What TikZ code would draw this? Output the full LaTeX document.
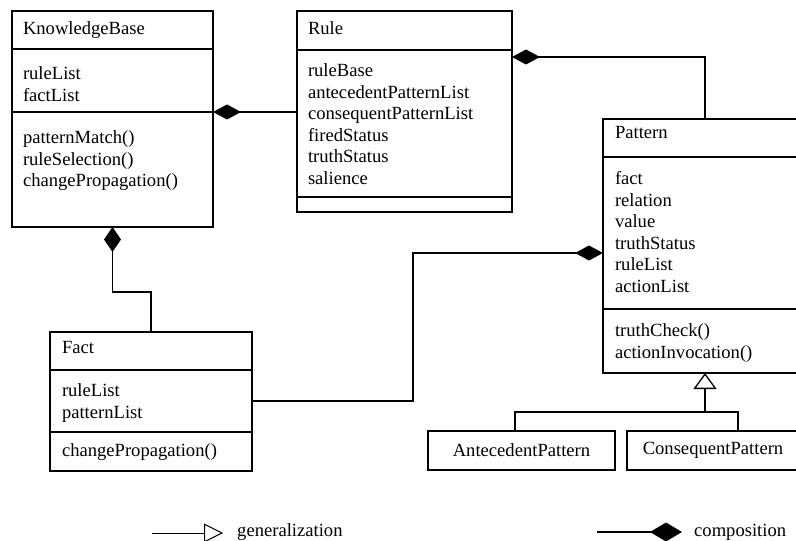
\documentclass[tikz,border=0pt]{standalone}
\usepackage{fontspec}
\setmainfont{Liberation Serif}
\usetikzlibrary{arrows.meta}
\begin{document}
\begin{tikzpicture}[x=1bp,y=-1bp,
  every node/.style={font=\fontsize{18.6bp}{21.6bp}\selectfont},
  classbox/.style={draw=black, line width=2bp, rectangle, inner sep=0pt, outer sep=0pt, anchor=north west},
  txt/.style={anchor=north west, inner sep=0pt, outer sep=0pt, align=left},
  divider/.style={line width=2bp},
  link/.style={line width=1.6bp},
  comp/.style={link, -{Diamond[length=28bp,width=15bp,fill=black]}},
  compshort/.style={link, -{Diamond[length=25bp,width=17bp,fill=black]}},
  genline/.style={line width=1.3bp},
  gen/.style={genline, -{Triangle[open,length=16bp,width=23bp]}},
]
\clip (0,0) rectangle (796,541);

% ---------- class boxes ----------
\node[classbox, minimum width=201bp, minimum height=216bp] (kb) at (12,11) {};
\draw[divider] ([yshift=-38bp]kb.north west) -- ([yshift=-38bp]kb.north east);
\draw[divider] ([yshift=-101bp]kb.north west) -- ([yshift=-101bp]kb.north east);
\coordinate (kbd2) at ([yshift=-101bp]kb.north east);
\node[txt] (kbname) at (23,21.5) {KnowledgeBase};
\node[txt] (kbattr) at (23,66.5) {ruleList\\factList};
\node[txt] (kbops) at (23,130.5) {patternMatch()\\ruleSelection()\\changePropagation()};

\node[classbox, minimum width=215bp, minimum height=201bp] (rule) at (297,11) {};
\draw[divider] ([yshift=-39bp]rule.north west) -- ([yshift=-39bp]rule.north east);
\draw[divider] ([yshift=-186bp]rule.north west) -- ([yshift=-186bp]rule.north east);
\node[txt] (rulename) at (308,21.5) {Rule};
\node[txt] (ruleattr) at (308,63.5) {ruleBase\\antecedentPatternList\\consequentPatternList\\firedStatus\\truthStatus\\salience};

\node[classbox, minimum width=196bp, minimum height=254bp] (pattern) at (603,119) {};
\draw[divider] ([yshift=-38bp]pattern.north west) -- ([yshift=-38bp]pattern.north east);
\draw[divider] ([yshift=-190bp]pattern.north west) -- ([yshift=-190bp]pattern.north east);
\node[txt] (patname) at (615,126.5) {Pattern};
\node[txt] (patattr) at (615,171.5) {fact\\relation\\value\\truthStatus\\ruleList\\actionList};
\node[txt] (patops) at (615,323.5) {truthCheck()\\actionInvocation()};

\node[classbox, minimum width=202bp, minimum height=139bp] (fact) at (50,332) {};
\draw[divider] ([yshift=-38bp]fact.north west) -- ([yshift=-38bp]fact.north east);
\draw[divider] ([yshift=-100bp]fact.north west) -- ([yshift=-100bp]fact.north east);
\node[txt] (factname) at (62,341.5) {Fact};
\node[txt] (factattr) at (62,383.5) {ruleList\\patternList};
\node[txt] (factops) at (62,443.5) {changePropagation()};

\node[classbox, minimum width=187bp, minimum height=39bp] (ante) at (428,431) {AntecedentPattern};
\node[classbox, minimum width=172bp, minimum height=39bp] (cons) at (627,431) {ConsequentPattern};

% ---------- compositions ----------
\draw[comp] (rule.west |- kbd2) -- (kbd2);
\coordinate (genx) at (705,412);
\draw[comp] (pattern.north -| genx) |- ([yshift=-46bp]rule.north east);
\draw[compshort] (fact.north) -- ++(0,-40) -| (kb.south);
\coordinate (fpbend) at (413,253);
\draw[comp] ([yshift=-69bp]fact.north east) -| (fpbend) -- (pattern.west |- fpbend);

% ---------- generalization ----------
\draw[gen] (genx) -- (pattern.south -| genx);
\draw[genline] ([xshift=-6.5bp]ante.north) |- (genx) -| ([xshift=25bp]cons.north);

% ---------- legend ----------
\node[anchor=base west, inner sep=0pt] (glab) at (237,536) {generalization};
\coordinate (g0) at (152,533);
\draw[line width=1bp, -{Triangle[open,length=19bp,width=19bp]}] (g0) -- ([xshift=-14bp]glab.west |- g0);
\node[anchor=base west, inner sep=0pt] (clab) at (694,536) {composition};
\coordinate (c0) at (597,532);
\draw[line width=1.8bp, -{Diamond[length=32bp,width=19bp,fill=black]}] (c0) -- ([xshift=-12bp]clab.west |- c0);
\end{tikzpicture}
\end{document}
